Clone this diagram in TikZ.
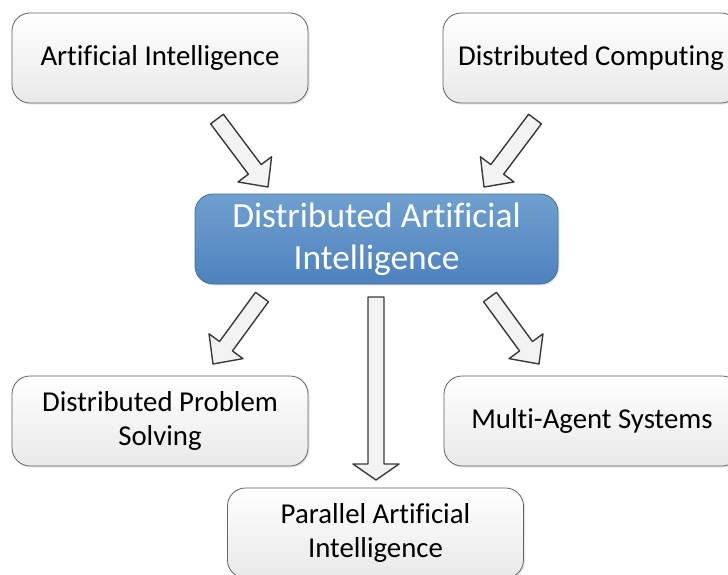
\documentclass[tikz,border=0pt]{standalone}
\usepackage{fontspec}
\setmainfont{Carlito}[Ligatures=NoCommon]
\usetikzlibrary{calc,shadows}
\definecolor{rand}{HTML}{626262}
\definecolor{boxu}{HTML}{E9E9E9}
\definecolor{blauo}{HTML}{6FA0CF}
\definecolor{blauu}{HTML}{4E82BE}
\definecolor{blaur}{HTML}{3F6E99}
\definecolor{pfeilf}{HTML}{F3F3F3}
\definecolor{pfeilr}{HTML}{3A3A3A}
\newcommand{\blockpfeil}[4]{%
  \draw[pfeil] let \p1=($(#2)-(#1)$), \n1={atan2(\y1,\x1)}, \n2={veclen(\x1,\y1)-#3} in
    ($(#1)+(\n1-90:8)$) -- ($(#1)+(\n1:\n2)+(\n1-90:8)$) -- ($(#1)+(\n1:\n2)+(\n1-90:#4)$)
    -- (#2) -- ($(#1)+(\n1:\n2)+(\n1+90:#4)$) -- ($(#1)+(\n1:\n2)+(\n1+90:8)$)
    -- ($(#1)+(\n1+90:8)$) -- cycle;}
\tikzset{
  box/.style={rectangle,rounded corners=18pt,draw=rand,line width=0.8pt,
    top color=white,bottom color=boxu,minimum width=296pt,minimum height=90pt,
    align=center,font=\fontsize{28.8}{34}\selectfont,
    drop shadow={opacity=0.2,shadow xshift=1.5pt,shadow yshift=-1.5pt}},
  hauptbox/.style={box,draw=blaur,top color=blauo,bottom color=blauu,
    minimum width=363pt,text=white,font=\fontsize{35.4}{42}\selectfont},
  pfeil/.style={draw=pfeilr,fill=pfeilf,line width=1.4pt,line join=round},
}
\begin{document}
\begin{tikzpicture}[x=1pt,y=1pt]
  \useasboundingbox (0,0) rectangle (728,-574);
  \clip (0,0) rectangle (728,-574);
  \node[box] (ki) at (160,-58) {Artificial Intelligence};
  \node[box] (vr) at (591,-58) {Distributed Computing};
  \node[hauptbox] (vki) at (376.5,-239) {Distributed Artificial\\Intelligence};
  \node[box] (vpl) at (160,-421) {Distributed Problem\\Solving};
  \node[box] (mas) at (592,-421) {Multi-Agent Systems};
  \node[box] (pki) at (375.5,-533) {Parallel Artificial\\Intelligence};
  % Blockpfeile
  \coordinate (a1) at (217,-119); \coordinate (b1) at (268,-187);
  \coordinate (a2) at (535,-119); \coordinate (b2) at (484,-187);
  \coordinate (a3) at (262,-297); \coordinate (b3) at (213,-364);
  \coordinate (a4) at (490,-297); \coordinate (b4) at (539,-364);
  \coordinate (a5) at (376,-297); \coordinate (b5) at (376,-480);
  \blockpfeil{a1}{b1}{22}{21}
  \blockpfeil{a2}{b2}{22}{21}
  \blockpfeil{a3}{b3}{22}{21}
  \blockpfeil{a4}{b4}{22}{21}
  \blockpfeil{a5}{b5}{16}{23}
\end{tikzpicture}
\end{document}
